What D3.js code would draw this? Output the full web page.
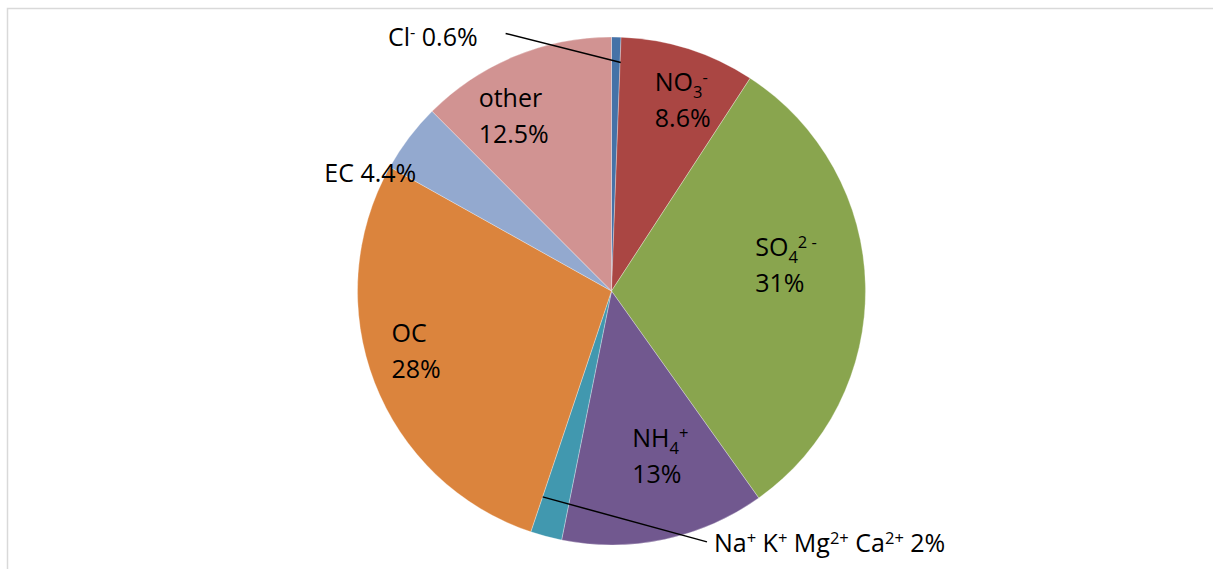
<!DOCTYPE html>
<html>
<head>
<meta charset="utf-8">
<script src="https://cdn.jsdelivr.net/npm/d3@7"></script>
<style>
  body { margin: 0; background: #fff; }
  svg { display: block; }
  text { font-family: "Open Sans", sans-serif; fill: #000; }
</style>
</head>
<body>
<svg id="chart" width="1213" height="569"></svg>
<script>
// slices clockwise from 12 o'clock
var names = [
  [["Cl",""],["-","sup"]],
  [["NO",""],["3","sub"],["-","sup"]],
  [["SO",""],["4","sub"],["2 -","sup"]],
  [["NH",""],["4","sub"],["+","sup"]],
  [["Na",""],["+","sup"],[" K",""],["+","sup"],[" Mg",""],["2+","sup"],[" Ca",""],["2+","sup"]],
  [["OC",""]],
  [["EC",""]],
  [["other",""]]
];
var values = [0.6, 8.6, 31, 13, 2, 28, 4.4, 12.5];
var colors = ["#4572A7", "#AA4643", "#89A54E", "#71588F", "#4198AF", "#DB843D", "#93A9CF", "#D19392"];
var outside = [true, false, false, false, true, false, true, false];

// layout tweaks (label nudges, Excel moved some labels by hand)
var labelNudge = [[-188, -25], [12, -5], [-21, -22], [8, -26], [287, 46], [-13, -10], [-59, 20], [-23, 6]];
var tipNudge = [[5, 0], [0, 0], [0, 0], [0, 0], [-10, -15], [0, 0], [0, 0], [0, 0]];
var hasLeader = [true, false, false, false, true, false, false, false];

var cx = 611.5, cy = 291, radius = 254;
var fontSize = 25, lineGap = 36;

var svg = d3.select("#chart");

// chart area border
svg.append("rect")
    .attr("x", 7.5).attr("y", 8.5)
    .attr("width", 1300).attr("height", 700)
    .attr("fill", "none")
    .attr("stroke", "#d9d9d9")
    .attr("stroke-width", 1.5);

var pie = d3.pie().sort(null).value(function(d){ return d; });
var arcs = pie(values);

var arc = d3.arc().innerRadius(0).outerRadius(radius);

var g = svg.append("g").attr("transform", "translate(" + cx + "," + cy + ")");

g.selectAll("path.slice")
    .data(arcs)
  .enter().append("path")
    .attr("class", "slice")
    .attr("d", arc)
    .attr("fill", function(d,i){ return colors[i]; })
    .attr("stroke", "#fff")
    .attr("stroke-width", 0.5)
    .attr("stroke-opacity", 0.6);

function polar(a, r){ return [r * Math.sin(a), -r * Math.cos(a)]; }

// write rich text (sub/sup) into a text element
function writeLine(textSel, segs){
  var shift = 0;
  segs.forEach(function(s){
    var target = s[1] == "sup" ? -8 : (s[1] == "sub" ? 7 : 0);
    var t = textSel.append("tspan")
        .attr("dy", target - shift)
        .text(s[0]);
    if(s[1]) t.attr("font-size", fontSize * 0.66);
    shift = target;
  });
}

var labelG = svg.append("g");

arcs.forEach(function(d, i){
  var mid = (d.startAngle + d.endAngle) / 2;
  var pct = values[i] + "%";
  var lg = labelG.append("g");

  if(outside[i]){
    var segs = names[i].concat([[(i == 4 ? "  " : " ") + pct, ""]]);
    var t0 = lg.append("text").attr("font-size", fontSize).attr("x", 0).attr("y", 0);
    writeLine(t0, segs);
  } else {
    var l1 = lg.append("text").attr("font-size", fontSize).attr("x", 0).attr("y", 0);
    writeLine(l1, names[i]);
    var l2 = lg.append("text").attr("font-size", fontSize).attr("x", 0).attr("y", lineGap);
    writeLine(l2, [[pct, ""]]);
  }

  // anchor: centroid at label radius, or leader tip for outside labels
  var anchor, tip;
  if(outside[i]){
    tip = polar(mid, radius * 0.9);
    tip = [cx + tip[0] + tipNudge[i][0], cy + tip[1] + tipNudge[i][1]];
    anchor = tip;
  } else {
    var c = polar(mid, radius * 0.77);
    anchor = [cx + c[0], cy + c[1]];
  }
  var target = [anchor[0] + labelNudge[i][0], anchor[1] + labelNudge[i][1]];

  // center block on target, using cap top of first line and baseline of last
  var bb = lg.node().getBBox();
  var capTop = -fontSize * 0.714;
  var base = outside[i] ? 0 : lineGap;
  var w = bb.width;
  var tx = target[0] - w / 2 - bb.x;
  var ty = target[1] - (capTop + base) / 2;
  lg.attr("transform", "translate(" + tx + "," + ty + ")");

  if(hasLeader[i]){
    var left = target[0] - w / 2, right = target[0] + w / 2;
    var start = tip[0] < left ? [left - 7, target[1] - 1] : [right + 28, target[1] - 4];
    svg.append("line")
        .attr("x1", start[0]).attr("y1", start[1])
        .attr("x2", tip[0]).attr("y2", tip[1])
        .attr("stroke", "#000")
        .attr("stroke-width", 1.5);
  }
});
</script>
</body>
</html>
